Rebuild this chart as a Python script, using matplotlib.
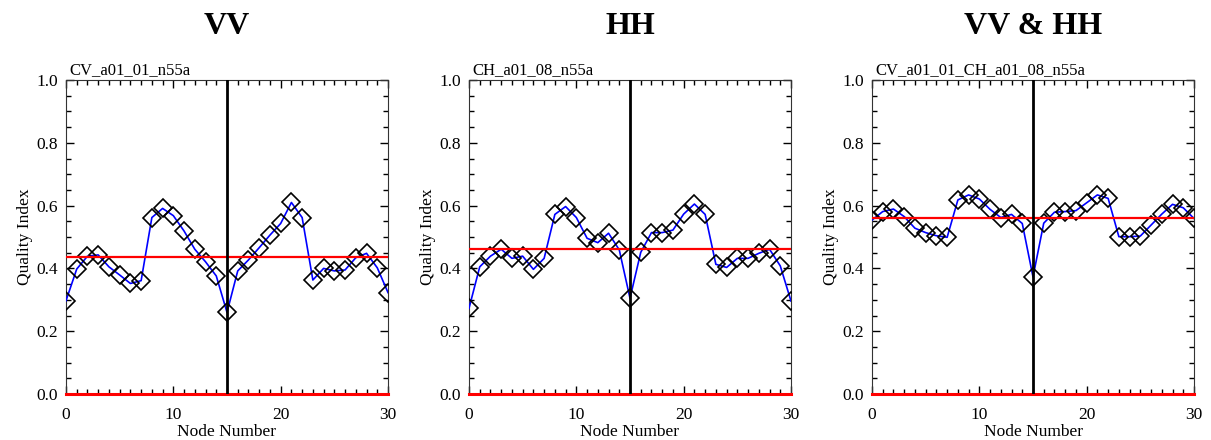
import numpy as np
import matplotlib
matplotlib.use("Agg")
import matplotlib.pyplot as plt
from matplotlib.ticker import MultipleLocator

plt.rcParams['font.family'] = ['Liberation Serif', 'DejaVu Serif']

nodes = np.arange(31)

vv = [0.297, 0.398, 0.439, 0.443, 0.405, 0.379, 0.352, 0.361, 0.562, 0.591,
      0.568, 0.519, 0.461, 0.421, 0.376, 0.260, 0.392, 0.427, 0.466, 0.506,
      0.543, 0.610, 0.562, 0.363, 0.400, 0.392, 0.395, 0.434, 0.448, 0.402,
      0.323]
hh = [0.273, 0.405, 0.439, 0.461, 0.432, 0.439, 0.397, 0.432, 0.572, 0.597,
      0.562, 0.496, 0.482, 0.512, 0.459, 0.305, 0.451, 0.514, 0.514, 0.522,
      0.573, 0.605, 0.572, 0.413, 0.403, 0.432, 0.432, 0.448, 0.461, 0.408,
      0.296]
vvhh = [0.554, 0.581, 0.589, 0.565, 0.528, 0.514, 0.504, 0.499, 0.618, 0.634,
        0.621, 0.588, 0.562, 0.572, 0.543, 0.373, 0.544, 0.579, 0.581, 0.584,
        0.609, 0.634, 0.623, 0.501, 0.501, 0.503, 0.538, 0.573, 0.604, 0.593,
        0.559]

means = [0.435, 0.462, 0.559]
titles = ["VV", "HH", "VV & HH"]
subtitles = ["CV_a01_01_n55a", "CH_a01_08_n55a", "CV_a01_01_CH_a01_08_n55a"]
series = [vv, hh, vvhh]
center_node = 15

fig = plt.figure(figsize=(12.11, 4.40), dpi=100)
lefts = [66, 469, 872]
for i in range(3):
    ax = fig.add_axes([lefts[i] / 1211, 1 - 394 / 440, 322 / 1211, 314 / 440])
    ax.plot(nodes, series[i], color='blue', lw=1.2, zorder=3)
    ax.plot(nodes, series[i], ls='none', marker='D', ms=9, mfc='none',
            mec='black', mew=1.2, zorder=4)
    ax.axhline(means[i], color='red', lw=1.6, zorder=5)
    ax.axhline(0, color='red', lw=2.2, zorder=5, clip_on=False)
    ax.axvline(center_node, color='black', lw=2, zorder=6)
    ax.set_xlim(0, 30)
    ax.set_ylim(0, 1)
    ax.xaxis.set_major_locator(MultipleLocator(10))
    ax.xaxis.set_minor_locator(MultipleLocator(1))
    ax.yaxis.set_major_locator(MultipleLocator(0.2))
    ax.yaxis.set_minor_locator(MultipleLocator(0.05))
    ax.tick_params(which='both', direction='in', top=True, right=True,
                   labelsize=12.5)
    ax.tick_params(axis='x', which='major', pad=9)
    ax.tick_params(axis='y', which='major', pad=6)
    ax.tick_params(which='major', length=6, width=1)
    ax.tick_params(which='minor', length=3.5, width=1)
    ax.set_yticks([0, 0.2, 0.4, 0.6, 0.8, 1.0])
    ax.set_yticklabels(["0.0", "0.2", "0.4", "0.6", "0.8", "1.0"])
    ax.set_xlabel("Node Number", fontsize=12.5, labelpad=1)
    ax.set_ylabel("Quality Index", fontsize=12.5, labelpad=2)
    for s in ax.spines.values():
        s.set_color('#333333')
    ax.text(0.01, 1.005, subtitles[i], transform=ax.transAxes, fontsize=12,
            ha='left', va='bottom')
    fig.text((lefts[i] + 161) / 1211, 1 - 27 / 440, titles[i], fontsize=23,
             fontweight='bold', ha='center', va='center')

fig.savefig("out.png", dpi=100)
